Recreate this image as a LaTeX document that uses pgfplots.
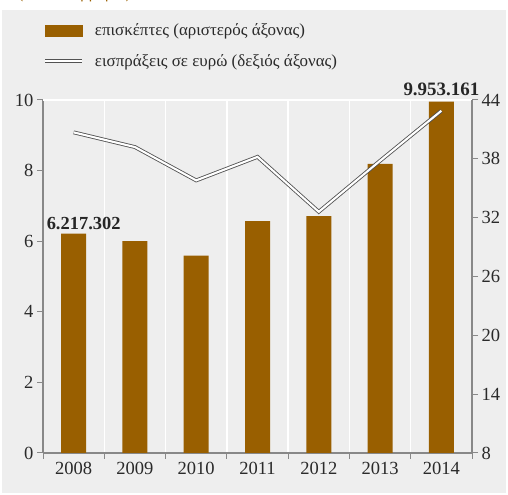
\documentclass[border=0pt]{standalone}
\usepackage{fontspec}
\setmainfont{Liberation Serif}
\usepackage{pgfplots}
\pgfplotsset{compat=1.18}
\definecolor{barbrown}{HTML}{995F00}
\definecolor{bg}{HTML}{EEEEEE}
\definecolor{axgray}{HTML}{888888}
\definecolor{txt}{HTML}{2A2A2A}
\tikzset{dline/.style={draw=black!68, line width=0.85bp, double=white, double distance=2.1bp}}
\begin{document}
\begin{tikzpicture}[x=1bp,y=1bp]
\useasboundingbox (0,0) rectangle (508,495);
\fill[bg] (2,2) rectangle (506,485);
\node[anchor=base west, text=barbrown, font=\fontsize{16}{19}\selectfont, inner sep=0] at (18,496) {(σε εκατομμύρια)};
\pgfplotsset{common/.style={
  at={(43bp,42bp)}, anchor=south west, scale only axis, width=429bp, height=353bp,
  xmin=-0.5, xmax=6.5, clip=false,
  tick label style={font=\fontsize{18.6}{22}\selectfont, text=txt},
  /pgf/number format/assume math mode=true,
  tick align=outside,
  major tick length=6bp,
  minor tick length=6bp,
  tick style={axgray, line width=1bp},
  axis line style={axgray, line width=1.2bp, -},
}}
\begin{axis}[common,
  axis y line*=left, axis x line*=bottom,
  ymin=0, ymax=10, ytick={0,2,...,10},
  xtick={0,...,6}, xticklabels={2008,2009,2010,2011,2012,2013,2014},
  major x tick style={draw=none},
  minor xtick={-0.5,0.5,...,6.5},
  xminorgrids, minor grid style={white, line width=1.5bp},
]
\draw[white, line width=1.5bp] (rel axis cs:0,1) -- (rel axis cs:1,1);
\addplot[ybar, bar width=25bp, fill=barbrown, draw=none] coordinates {
(0,6.217302) (1,6.00) (2,5.59) (3,6.57) (4,6.71) (5,8.19) (6,9.953161)};
\node[font=\bfseries\fontsize{18.5}{22}\selectfont, anchor=south, text=black!85, xshift=10bp, yshift=0bp] at (axis cs:0,6.217302) {6.217.302};
\node[font=\bfseries\fontsize{19}{22}\selectfont, anchor=south, text=black!85, yshift=2bp] at (axis cs:6,9.953161) {9.953.161};
\end{axis}
\begin{axis}[common,
  axis y line*=right, axis x line=none,
  ymin=8, ymax=44, ytick={8,14,...,44},
  xtick=\empty,
  legend style={at={(0,1.216)}, anchor=north west, draw=none, fill=none,
    inner sep=0pt, font=\fontsize{17}{20}\selectfont, text=txt, row sep=17.5bp,
    column sep=11bp, nodes={inner sep=0pt}},
  legend cell align=left,
]
\addlegendimage{legend image code/.code={\fill[barbrown] (0cm,-0.194cm) rectangle (1.305cm,0.194cm);}}
\addlegendentry{επισκέπτες (αριστερός άξονας)}
\addplot[dline, legend image code/.code={\draw[dline] (0cm,0.3bp) -- (1.305cm,0.3bp);}] coordinates {
(0,40.7) (1,39.2) (2,35.8) (3,38.2) (4,32.6) (5,37.8) (6,42.9)};
\addlegendentry{εισπράξεις σε ευρώ (δεξιός άξονας)}
\end{axis}
\end{tikzpicture}
\end{document}
